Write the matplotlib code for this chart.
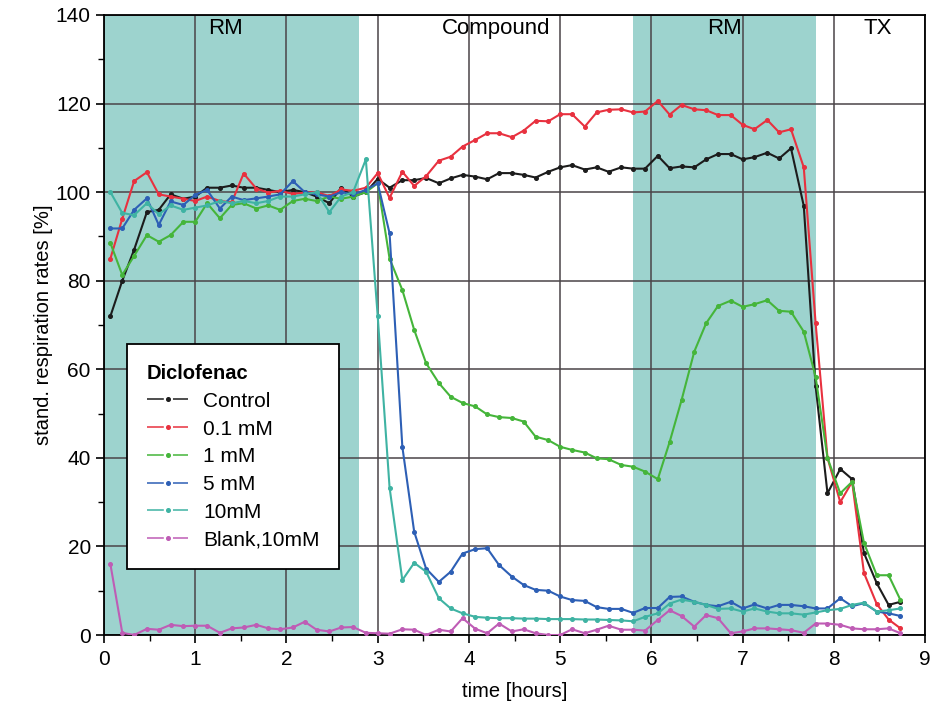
import matplotlib
matplotlib.use("Agg")
import matplotlib.pyplot as plt
from matplotlib.lines import Line2D

plt.rcParams["font.family"] = ["Liberation Sans", "DejaVu Sans"]

time_h = [0.07, 0.20, 0.33, 0.47, 0.60, 0.73, 0.87, 1.00, 1.13, 1.27, 1.40,
          1.53, 1.67, 1.80, 1.93, 2.07, 2.20, 2.33, 2.47, 2.60, 2.73, 2.87,
          3.00, 3.13, 3.27, 3.40, 3.53, 3.67, 3.80, 3.93, 4.07, 4.20, 4.33,
          4.47, 4.60, 4.73, 4.87, 5.00, 5.13, 5.27, 5.40, 5.53, 5.67, 5.80,
          5.93, 6.07, 6.20, 6.33, 6.47, 6.60, 6.73, 6.87, 7.00, 7.13, 7.27,
          7.40, 7.53, 7.67, 7.80, 7.93, 8.07, 8.20, 8.33, 8.47, 8.60, 8.73]

control = [72, 80, 87, 95.5, 96, 99.5, 98.5, 99, 101, 101, 101.5,
           101, 101, 100.5, 100, 100.5, 100, 99, 97.5, 101, 99, 100,
           103, 101, 102.7, 102.7, 103.2, 102, 103.1, 103.9, 103.5, 102.9, 104.3,
           104.3, 103.9, 103.3, 104.6, 105.6, 106.1, 105.1, 105.6, 104.6, 105.6, 105.3,
           105.3, 108.2, 105.4, 105.8, 105.6, 107.4, 108.6, 108.6, 107.4, 107.9, 108.9,
           107.6, 109.9, 96.9, 56.2, 32, 37.5, 35.2, 18.5, 11.7, 6.8, 7.5]

mM_0_1 = [85, 94, 102.5, 104.5, 99.5, 99, 98.5, 98, 99, 98, 97.7,
          104.2, 100.8, 99.9, 100.3, 99.6, 99.9, 100, 99.1, 100.6, 100.3, 101,
          104.3, 98.7, 104.6, 101.4, 103.6, 107.1, 108, 110.3, 111.8, 113.3, 113.3,
          112.4, 113.9, 116.1, 116, 117.6, 117.6, 114.8, 118, 118.6, 118.7, 118,
          118.2, 120.6, 117.5, 119.7, 118.7, 118.5, 117.4, 117.4, 115.2, 114.2, 116.3,
          113.5, 114.2, 105.6, 70.4, 40, 30, 34.6, 14, 7, 3.5, 1.5]

mM_1 = [88.5, 81.3, 85.6, 90.3, 88.8, 90.3, 93.3, 93.3, 97.5, 94.1, 97.1,
        97.5, 96.3, 97, 96, 98, 98.5, 98, 99, 98.5, 99, 100,
        102, 85, 77.9, 68.9, 61.4, 56.9, 53.8, 52.4, 51.6, 49.8, 49.2,
        49, 48.2, 44.8, 44, 42.5, 41.8, 41.2, 39.9, 39.7, 38.4, 38,
        36.9, 35.2, 43.6, 53, 64, 70.4, 74.3, 75.5, 74.1, 74.7, 75.6,
        73.2, 73, 68.5, 58.3, 40, 32, 34.6, 20.8, 13.5, 13.5, 7.9]

mM_5 = [91.8, 91.8, 96, 98.6, 92.6, 97.9, 97.1, 99.4, 100.5, 96.3, 99,
        98.2, 98.6, 99, 99.5, 102.5, 100, 99.5, 99, 100, 99.5, 100.5,
        102, 90.7, 42.5, 23.3, 15, 12, 14.3, 18.4, 19.4, 19.6, 15.8,
        13.2, 11.3, 10.2, 10, 8.7, 7.9, 7.7, 6.3, 5.9, 5.9, 5,
        6.1, 6.1, 8.6, 8.7, 7.5, 6.8, 6.5, 7.5, 6, 6.9, 6,
        6.8, 6.8, 6.5, 6, 6, 8.3, 6.5, 7.2, 5.3, 4.9, 4.3]

mM_10 = [100, 95.3, 94.8, 97.5, 95, 97, 96, 96.5, 97, 98, 97.5,
         98, 97.5, 98, 99, 99, 99.5, 100, 95.5, 99, 100, 107.4,
         72, 33.3, 12.4, 16.3, 14.3, 8.3, 6, 4.9, 4.1, 3.9, 3.8,
         3.8, 3.7, 3.7, 3.6, 3.6, 3.6, 3.5, 3.5, 3.4, 3.3, 3.1,
         4.1, 4.9, 7.1, 8, 7.5, 6.8, 5.9, 6, 5.3, 6, 5.3,
         4.9, 4.9, 4.6, 5.1, 5.6, 5.9, 6.8, 7.3, 5.3, 5.6, 6]

blank_10 = [16, 0.5, 0, 1.4, 1.2, 2.3, 2, 2.1, 2.1, 0.5, 1.5,
            1.7, 2.3, 1.5, 1.3, 1.7, 3, 1.2, 0.8, 1.7, 1.8, 0.5,
            0.4, 0.3, 1.3, 1.2, 0, 1.2, 0.8, 3.8, 1.4, 0.4, 2.6,
            0.8, 1.3, 0.4, 0, 0, 1.3, 0.4, 1.2, 2.1, 1.2, 1.2,
            1, 3.4, 5.6, 4.3, 1.9, 4.5, 3.8, 0.4, 0.8, 1.5, 1.5,
            1.3, 1.1, 0.5, 2.6, 2.6, 2.3, 1.5, 1.3, 1.3, 1.5, 0.4]

series = [
    ("Control",      control,  "#1c1c1c"),
    ("0.1 mM",       mM_0_1,   "#e8313f"),
    ("1 mM",         mM_1,     "#45b53a"),
    ("5 mM",         mM_5,     "#2d5fb5"),
    ("10mM",         mM_10,    "#3fb3a3"),
    ("Blank,10mM",   blank_10, "#bf5cb5"),
]

# Phasen (RM = Nährmedium, Compound, TX)
shaded = [(0.0, 2.8), (5.8, 7.8)]
phase_labels = ["RM", "Compound", "RM", "TX"]
phase_pos = [1.33, 4.3, 6.8, 8.48]

SHADE = "#9dd3ce"
GRID = "#4a4448"

# ── plot ──────────────────────────────────────────────────────────────────────
fig = plt.figure(figsize=(9.32, 7.07), dpi=100)
ax = fig.add_axes([0.1116, 0.1018, 0.881, 0.877])

for a, b in shaded:
    ax.axvspan(a, b, color=SHADE, lw=0, zorder=0)

ax.set_xlim(0, 9)
ax.set_ylim(0, 140)
ax.set_xticks(range(0, 10))
ax.set_yticks(range(0, 141, 20))
ax.set_xticks([i + 0.5 for i in range(9)], minor=True)
ax.set_yticks([i * 20 + 10 for i in range(7)], minor=True)
ax.grid(True, which="major", color=GRID, lw=1.1, zorder=1)
ax.tick_params(which="major", direction="out", length=6, width=1.2,
               labelsize=15, colors="black")
ax.tick_params(axis="x", which="major", pad=5)
ax.tick_params(which="minor", direction="out", length=4, width=1.0)
for sp in ax.spines.values():
    sp.set_linewidth(1.3)
    sp.set_color("black")

for name, vals, col in series:
    ax.plot(time_h, vals, color=col, lw=1.5, marker="o", ms=2.6,
            mec=col, mfc=col, zorder=3, label=name)

for txt, xp in zip(phase_labels, phase_pos):
    ax.text(xp, 137.0, txt, ha="center", va="center", fontsize=16, zorder=4)

ax.set_xlabel("time [hours]", fontsize=14.5, labelpad=9)
ax.set_ylabel("stand. respiration rates [%]", fontsize=14.5, labelpad=2)

handles = [Line2D([0], [0], color=c, lw=1.1, ls=(0, (11, 6)), marker="o",
                  ms=2.6, mfc=c, mec=c) for _, _, c in series]
leg = ax.legend(handles, [s[0] for s in series], title="Diclofenac",
                loc="lower left", bbox_to_anchor=(0.028, 0.106),
                fontsize=15, title_fontsize=14.5, frameon=True,
                fancybox=False, edgecolor="black", framealpha=1,
                handlelength=2.0, handletextpad=0.7, labelspacing=0.42,
                borderpad=0.95, borderaxespad=0)
leg.get_title().set_fontweight("bold")
leg._legend_box.align = "left"
leg.get_frame().set_linewidth(1.3)
leg.set_zorder(5)

fig.savefig("out.png", dpi=100, facecolor="white")
